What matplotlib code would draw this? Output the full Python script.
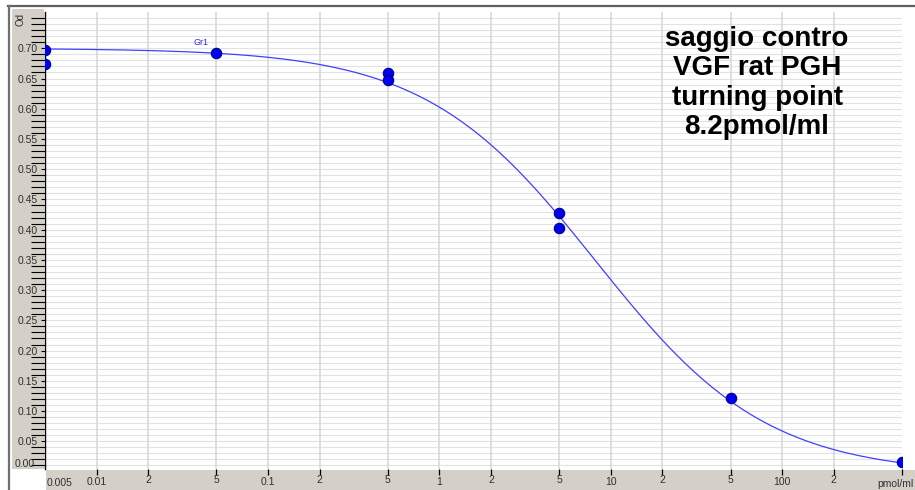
import numpy as np
import matplotlib
matplotlib.use("Agg")
import matplotlib.pyplot as plt
from matplotlib.patches import Rectangle
from matplotlib.lines import Line2D

# Measured optical density vs. concentration (pmol/ml), duplicates
conc = [0.005, 0.005, 0.05, 0.5, 0.5, 5, 5, 50, 500]
od = [0.697, 0.674, 0.693, 0.659, 0.647, 0.428, 0.403, 0.121, 0.016]

# Four-parameter logistic fit (turning point in pmol/ml)
fit_top = 0.700
fit_bottom = -0.005
turning_point = 8.2
hill_slope = 0.87

decade_ticks = [0.01, 0.1, 1, 10, 100]
decade_labels = ["0.01", "0.1", "1", "10", "100"]
sub_ticks = [0.02, 0.05, 0.2, 0.5, 2, 5, 20, 50, 200, 500]
sub_labels = ["2", "5", "2", "5", "2", "5", "2", "5", "2", ""]

y_major = [0.05, 0.10, 0.15, 0.20, 0.25, 0.30, 0.35, 0.40, 0.45, 0.50,
           0.55, 0.60, 0.65, 0.70]
y_major_labels = ["%.2f" % v for v in y_major]

W, H, DPI = 915, 490, 100
GREY = "#d4d0c8"
FONT = "Liberation Sans"
TXT = "#303030"


def fx(px):
    return px / W


def fy(py):
    return 1 - py / H


fig = plt.figure(figsize=(W / DPI, H / DPI), dpi=DPI, facecolor="white")

# window frame and grey axis panels
fig.patches.append(Rectangle((fx(12), fy(469)), fx(44) - fx(12), fy(9) - fy(469),
                             transform=fig.transFigure, facecolor=GREY,
                             edgecolor="none", zorder=-2))
fig.patches.append(Rectangle((fx(46), fy(490)), fx(915) - fx(46), fy(470) - fy(490),
                             transform=fig.transFigure, facecolor=GREY,
                             edgecolor="none", zorder=-2))
fig.lines.append(Line2D([fx(8), fx(915)], [fy(6.5), fy(6.5)], transform=fig.transFigure,
                        color="#606060", lw=1.6, zorder=-1))
fig.lines.append(Line2D([fx(9), fx(9)], [fy(6.5), fy(490)], transform=fig.transFigure,
                        color="#707070", lw=1.6, zorder=-1))

ax = fig.add_axes([fx(45), fy(469), fx(902) - fx(45), fy(12) - fy(469)])
ax.set_xscale("log")
ax.set_xlim(0.005, 500)
ax.set_ylim(0.0041, 0.760)

for s in ["top", "right", "bottom"]:
    ax.spines[s].set_visible(False)
ax.spines["left"].set_color("black")
ax.spines["left"].set_linewidth(1.0)

# grid
for v in np.arange(0.01, 0.76, 0.01):
    ax.axhline(v, color="#e2e2e2", lw=0.8, zorder=0)
for v in decade_ticks + sub_ticks[:-1]:
    ax.axvline(v, color="#d6d6d6", lw=1.1, zorder=0)

# y axis ticks
ax.set_yticks(y_major)
ax.set_yticklabels(y_major_labels, fontsize=7.5, family=FONT, color=TXT)
ax.set_yticks([v for v in np.arange(0.01, 0.755, 0.01)
               if min(abs(v - m) for m in y_major) > 1e-6], minor=True)
ax.tick_params(axis="y", which="major", length=3, width=0.8, pad=2, color="black")
ax.tick_params(axis="y", which="minor", length=10, width=0.8, color="black")

# x axis ticks
ax.set_xticks(decade_ticks)
ax.set_xticklabels(decade_labels, fontsize=7.5, family=FONT, color=TXT)
ax.set_xticks(sub_ticks, minor=True)
ax.set_xticklabels(sub_labels, minor=True, fontsize=7.5, family=FONT, color=TXT)
ax.tick_params(axis="x", which="major", length=4.5, width=0.9, pad=1.2, color="black")
ax.tick_params(axis="x", which="minor", length=4.0, width=0.9, pad=0.4, color="black")

# extra axis labels
fig.text(fx(47), fy(483), "0.005", fontsize=7.5, family=FONT, color=TXT,
         ha="left", va="center")
fig.text(fx(914), fy(484), "pmol/ml", fontsize=7.5, family=FONT, color=TXT,
         ha="right", va="center")
fig.text(fx(15), fy(464), "0.00", fontsize=7.5, family=FONT, color=TXT,
         ha="left", va="center")
fig.text(fx(21), fy(19), "Od", fontsize=7, family=FONT, color=TXT,
         ha="center", va="center", rotation=90)

# fitted curve
xs = np.logspace(np.log10(0.005), np.log10(500), 400)
ys = fit_bottom + (fit_top - fit_bottom) / (1 + (xs / turning_point) ** hill_slope)
ax.plot(xs, ys, color="#4040ff", lw=0.9, zorder=3)

# data points
ax.plot(conc, od, "o", ms=7.5, mfc="#0000f0", mec="#000090", mew=0.8, zorder=4)

ax.text(0.0366, 0.709, "Gr1", fontsize=6.5, family=FONT, color="#2a2aff",
        ha="left", va="center")

fig.text(fx(757), fy(83), "saggio contro\nVGF rat PGH\nturning point\n8.2pmol/ml",
         fontsize=20, fontweight="bold", family=FONT, ha="center", va="center",
         linespacing=1.17, color="black")

fig.savefig("out.png", dpi=DPI, facecolor="white")
